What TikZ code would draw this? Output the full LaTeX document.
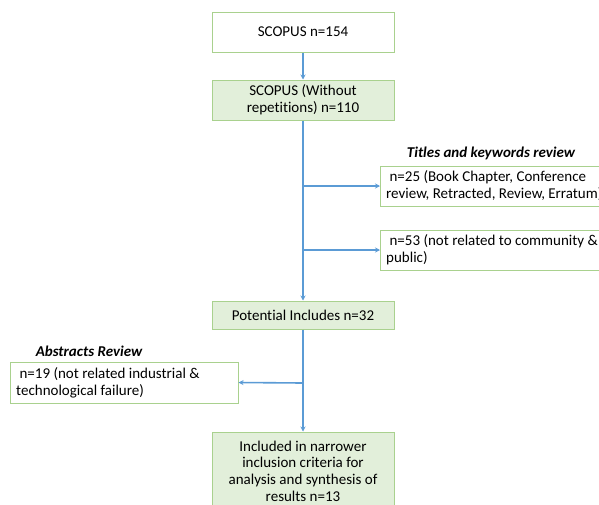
\documentclass[tikz,border=0pt]{standalone}
\usepackage{fontspec}
\setmainfont[Ligatures={NoCommon}]{Carlito}
\usetikzlibrary{arrows.meta}
\definecolor{bord}{HTML}{A9D18E}
\definecolor{gfill}{HTML}{E2EFDA}
\definecolor{arrc}{HTML}{5B9BD5}
\tikzset{
  wbox/.style={draw=bord, line width=1pt, fill=white, font=\fontsize{15}{17}\selectfont, inner sep=3pt},
  gbox/.style={wbox, fill=gfill},
  txt/.style={font=\fontsize{15}{17}\selectfont, inner sep=0pt, anchor=west, align=left},
  conn/.style={draw=arrc, line width=1.6pt},
  arr/.style={conn, -{Stealth[length=5pt,width=5pt]}},
  ttl/.style={font=\fontsize{15}{17}\selectfont\bfseries\itshape}
}
\begin{document}
\begin{tikzpicture}[x=1pt,y=-1pt]
\useasboundingbox (0,0) rectangle (599,504);
\clip (0,0) rectangle (599,504);
\node[wbox, minimum width=182pt, minimum height=40pt] (b1) at (303,32) {SCOPUS n=154};
\node[gbox, minimum width=182pt, minimum height=40pt, align=center] (b2) at (303,100) {SCOPUS (Without\\repetitions) n=110};
\node[wbox, anchor=west, minimum width=280pt, minimum height=40pt] (b3) at (380,186) {};
\node[txt] (b3t) at (386,186) {\ n=25 (Book Chapter, Conference\\review, Retracted, Review, Erratum)};
\node[wbox, anchor=west, minimum width=280pt, minimum height=40pt] (b4) at (380,250) {};
\node[txt] (b4t) at (386,250) {\ n=53 (not related to community \&\\public)};
\node[gbox, minimum width=182pt, minimum height=28pt] (b5) at (303,315) {Potential Includes n=32};
\node[wbox, minimum width=228pt, minimum height=41pt] (b7) at (124,382.5) {};
\node[txt] (b7t) at (16,382.5) {\ n=19 (not related industrial \&\\technological failure)};
\node[gbox, minimum width=182pt, minimum height=84pt] (b6) at (303,474) {};
\node[font=\fontsize{15}{16.7}\selectfont, align=center, inner sep=0pt] (b6t) at (303,471) {Included in narrower\\inclusion criteria for\\analysis and synthesis of\\results n=13};
\node[ttl] (t1) at (491,153) {Titles and keywords review};
\node[ttl] (t2) at (89,351) {Abstracts Review};
\coordinate (j1) at (303,186);
\coordinate (j2) at (303,250);
\coordinate (j3) at (303,383);
\draw[arr] (b1) -- (b2);
\draw[arr] (b2) -- (b5);
\draw[arr] (j1) -- (b3.west);
\draw[arr] (j2) -- (b4.west);
\draw[arr] (b5) -- (b6);
\draw[arr] (j3) -- (b7.east);
\end{tikzpicture}
\end{document}
